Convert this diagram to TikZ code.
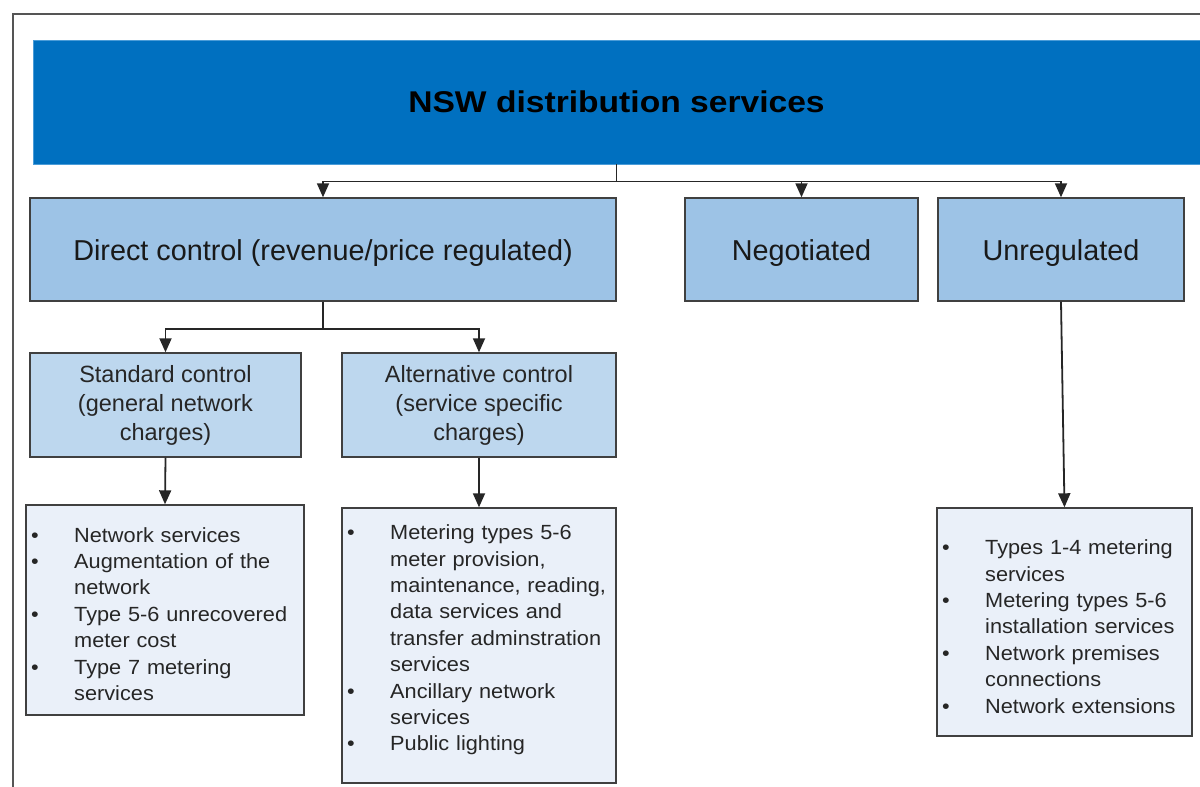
\documentclass[tikz,border=0pt]{standalone}
\usepackage{fontspec}
\setmainfont{Liberation Sans}
\newfontfamily\titlefont[FakeStretch=1.12]{Liberation Sans}
\newfontfamily\listfont[FakeStretch=1.06]{Liberation Sans}
\usetikzlibrary{arrows.meta}
\definecolor{bannerblue}{HTML}{0070C0}
\definecolor{bannerline}{HTML}{4A9CD8}
\definecolor{midblue}{HTML}{9DC3E6}
\definecolor{lightblue}{HTML}{BDD7EE}
\definecolor{paleblue}{HTML}{EAF0F9}
\definecolor{edgegray}{HTML}{404040}
\definecolor{framegray}{HTML}{555555}
\definecolor{textdark}{HTML}{262626}
\newcommand\nl{\hfil\break}
\newcommand\litem[1]{\par\noindent\hangindent=43pt\hangafter=1\makebox[43pt][l]{•}\rule{0pt}{20pt}#1\par}
\newcommand\lowered[1]{\raisebox{-3pt}[21pt][6pt]{#1}}
\tikzset{
  bannerbox/.style={draw=bannerline, line width=0.8pt, fill=bannerblue, inner sep=0pt,
    font=\titlefont\bfseries\fontsize{30pt}{36pt}\selectfont, text=black},
  topbox/.style={draw=edgegray, line width=1.4pt, fill=midblue, inner sep=0pt,
    font=\fontsize{28.8pt}{34pt}\selectfont, text=black!90},
  ctrlbox/.style={draw=edgegray, line width=1.4pt, fill=lightblue, inner sep=0pt,
    font=\fontsize{23.5pt}{29pt}\selectfont, text=black!85, align=center},
  listbox/.style={draw=edgegray, line width=1.4pt, fill=paleblue, inner sep=0pt},
  listtext/.style={inner sep=0pt, anchor=north west, text=textdark,
    font=\listfont\fontsize{20.5pt}{26.4pt}\selectfont},
  conn/.style={draw=black!85, line width=1.8pt, -{Triangle[length=14pt,width=12pt]}},
  frameline/.style={draw=framegray, line width=2pt}
}
\begin{document}
\begin{tikzpicture}[x=1pt,y=-1pt]
\useasboundingbox (0,0) rectangle (1200,787);
\draw[frameline] (12.5,800) -- (12.5,13.5) -- (1210,13.5);

\node[bannerbox, minimum width=1167pt, minimum height=124pt] (banner) at (616.5,102) {NSW distribution services};

\node[topbox, minimum width=586pt, minimum height=103pt] (direct) at (323,249.5) {\lowered{Direct control (revenue/price regulated)}};
\node[topbox, minimum width=233pt, minimum height=103pt] (nego) at (801.5,249.5) {\lowered{Negotiated}};
\node[topbox, minimum width=246pt, minimum height=103pt] (unreg) at (1061,249.5) {\lowered{Unregulated}};

\node[ctrlbox, minimum width=271pt, minimum height=104pt] (stdc) at (165.5,405) {Standard control\\(general network\\charges)};
\node[ctrlbox, minimum width=274pt, minimum height=104pt] (altc) at (479,405) {Alternative control\\(service specific\\charges)};

\node[listbox, minimum width=278pt, minimum height=210pt] (stdlist) at (165,610) {};
\node[listbox, minimum width=274pt, minimum height=275pt] (altlist) at (479,645.5) {};
\node[listbox, minimum width=255pt, minimum height=228pt] (unreglist) at (1064.5,622) {};

\node[listtext, text width=268pt] (stdtext) at (31,515.5) {%
\litem{Network services}
\litem{Augmentation of the\nl network}
\litem{Type 5-6 unrecovered\nl meter cost}
\litem{Type 7 metering\nl services}};

\node[listtext, text width=266pt] (alttext) at (347,513) {%
\litem{Metering types 5-6\nl meter provision,\nl maintenance, reading,\nl data services and\nl transfer adminstration\nl services}
\litem{Ancillary network\nl services}
\litem{Public lighting}};

\node[listtext, text width=248pt] (unregtext) at (942,528) {%
\litem{Types 1-4 metering\nl services}
\litem{Metering types 5-6\nl installation services}
\litem{Network premises\nl connections}
\litem{Network extensions}};

\draw[conn] (banner.south) -- ++(0,17) -| (direct.north);
\draw[conn] (banner.south) -- ++(0,17) -| (nego.north);
\draw[conn] (banner.south) -- ++(0,17) -| (unreg.north);

\draw[conn] (direct.south) -- ++(0,27) -| (stdc.north);
\draw[conn] (direct.south) -- ++(0,27) -| (altc.north);

\draw[conn] (stdc.south) -- (stdlist.north);
\draw[conn] (altc.south) -- (altlist.north);
\draw[conn] (unreg.south) -- (unreglist.north);
\end{tikzpicture}
\end{document}
